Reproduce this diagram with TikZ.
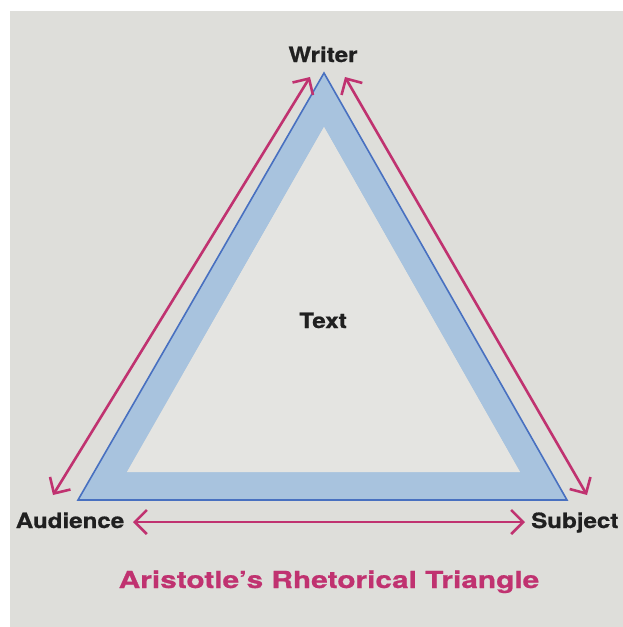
\documentclass[tikz,border=0pt]{standalone}
\usepackage{fontspec}
\setmainfont{TeX Gyre Heros}
\newfontfamily\widesans[FakeStretch=1.15,FakeBold=0.8]{TeX Gyre Heros}
\newfontfamily\widertitle[FakeStretch=1.27,FakeBold=0.8]{TeX Gyre Heros}
\usetikzlibrary{arrows.meta}
\definecolor{paper}{RGB}{222,222,218}
\definecolor{innerpaper}{RGB}{228,228,225}
\definecolor{bandblue}{RGB}{168,195,222}
\definecolor{edgeblue}{RGB}{72,112,192}
\definecolor{magentaline}{RGB}{192,50,112}
\definecolor{inkdark}{RGB}{32,32,32}
\tikzset{
  label/.style={font=\widesans\fontsize{21}{23}\selectfont\bfseries, text=inkdark, inner sep=0pt, anchor=base},
  barb/.tip={Straight Barb[length=12pt,width=24pt,line width=2.6pt]},
  relation/.style={draw=magentaline, line width=2.6pt, barb-barb},
  titletext/.style={font=\widertitle\fontsize{23.5}{25}\selectfont\bfseries, text=magentaline, inner sep=0pt, anchor=base}
}
\begin{document}
\begin{tikzpicture}[x=1pt,y=-1pt]
  \fill[white] (0,0) rectangle (623,627);
  \fill[paper] (10,11) rectangle (623,627);
  \useasboundingbox (0,0) rectangle (623,627);
  % band
  \fill[bandblue, even odd rule] (324,73) -- (78,500) -- (567,500) -- cycle
        (324,127) -- (127,472) -- (520,472) -- cycle;
  \fill[innerpaper] (324,127) -- (127,472) -- (520,472) -- cycle;
  \draw[edgeblue, line width=1.6pt, line join=miter] (324,73) -- (78,500) -- (567,500) -- cycle;
  % labels
  \node[label] (writer) at (323,62) {Writer};
  \node[label] (text) at (323,328) {Text};
  \node[label] (audience) at (70,528) {Audience};
  \node[label, anchor=base west] (subject) at (531,528) {Subject};
  \node[titletext] (title) at (329,588) {Aristotle’s Rhetorical Triangle};
  % arrow endpoints
  \coordinate (wl) at (310,77);
  \coordinate (al) at (53,495);
  \coordinate (wr) at (345,77);
  \coordinate (sr) at (587,495);
  \coordinate (ab) at (133,522);
  \coordinate (sb) at (525,522);
  \draw[relation] (wl) -- (al);
  \draw[relation] (wr) -- (sr);
  \draw[relation] (ab) -- (sb);
\end{tikzpicture}
\end{document}
